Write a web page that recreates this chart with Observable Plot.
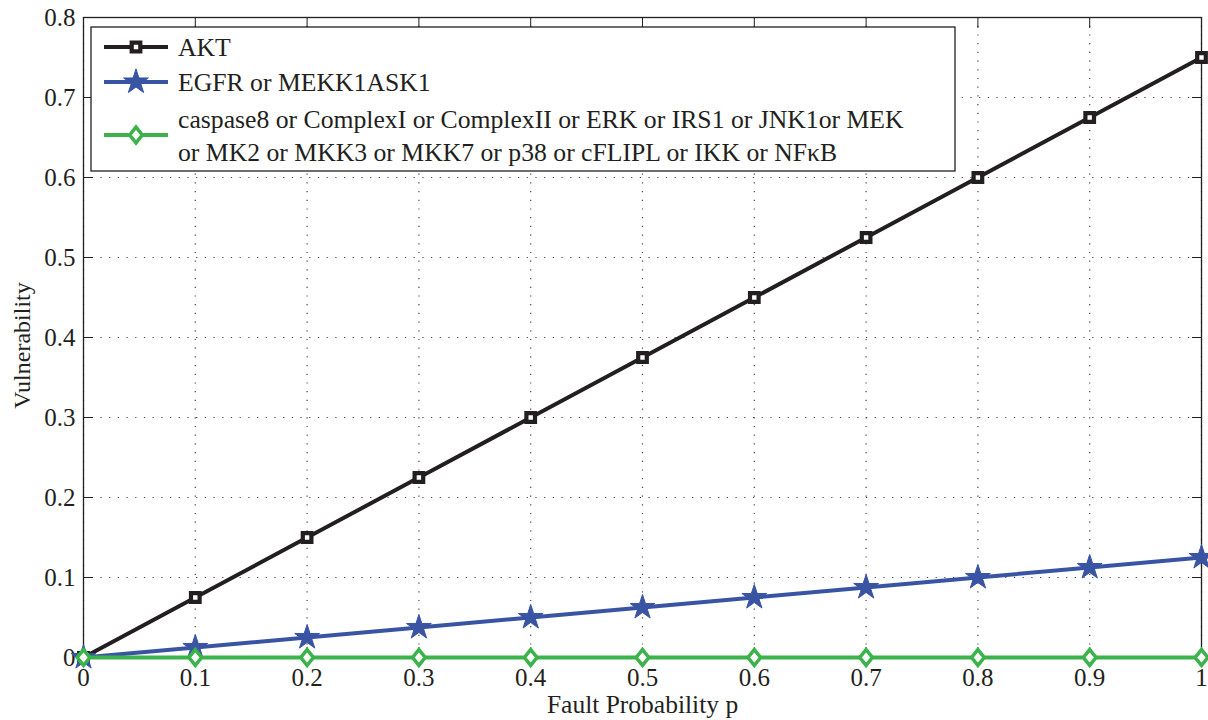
<!DOCTYPE html>
<html>
<head>
<meta charset="utf-8">
<script src="https://cdn.jsdelivr.net/npm/d3@7"></script>
<script src="https://cdn.jsdelivr.net/npm/@observablehq/plot@0.6"></script>
<style>
  html, body { margin: 0; padding: 0; background: #fff; }
  #chart { position: relative; width: 1208px; height: 720px; }
  #chart svg text { font-family: "Liberation Serif", "Times New Roman", serif !important; }
</style>
</head>
<body>
<div id="chart"></div>
<script>
const faultP = [0, 0.1, 0.2, 0.3, 0.4, 0.5, 0.6, 0.7, 0.8, 0.9, 1];
const aktValues = [0, 0.075, 0.15, 0.225, 0.3, 0.375, 0.45, 0.525, 0.6, 0.675, 0.75];
const egfrValues = [0, 0.0125, 0.025, 0.0375, 0.05, 0.0625, 0.075, 0.0875, 0.1, 0.1125, 0.125];
const otherValues = [0, 0, 0, 0, 0, 0, 0, 0, 0, 0, 0];
const xTicks = [0, 0.1, 0.2, 0.3, 0.4, 0.5, 0.6, 0.7, 0.8, 0.9, 1];
const yTicks = [0, 0.1, 0.2, 0.3, 0.4, 0.5, 0.6, 0.7, 0.8];
const seriesNames = [
  "AKT",
  "EGFR or MEKK1ASK1",
  "caspase8 or ComplexI or ComplexII or ERK or IRS1 or JNK1or MEK\nor MK2 or MKK3 or MKK7 or p38 or cFLIPL or IKK or NFκB"
];
const colors = ["#231f20", "#3a54a4", "#3cb34a"];

const rows = (vals) => faultP.map((p, i) => ({p, v: vals[i]}));
const akt = rows(aktValues), egfr = rows(egfrValues), other = rows(otherValues);

const matDiamond = {
  draw(ctx, size) {
    const r = Math.sqrt(size / Math.PI);
    ctx.moveTo(0, -r * 1.25);
    ctx.lineTo(r, 0);
    ctx.lineTo(0, r * 1.25);
    ctx.lineTo(-r, 0);
    ctx.closePath();
  }
};

const font = "Liberation Serif";

const plot = Plot.plot({
  width: 1208,
  height: 720,
  marginLeft: 83,
  marginRight: 7,
  marginTop: 17,
  marginBottom: 63,
  style: {fontFamily: font, fontSize: "25px", color: "#231f20", background: "#fff", overflow: "visible"},
  x: {domain: [0, 1], ticks: xTicks},
  y: {domain: [0, 0.8], ticks: yTicks},
  marks: [
    Plot.gridX(xTicks, {stroke: "#444", strokeOpacity: 1, strokeWidth: 1.2, strokeDasharray: "1.2,7.5"}),
    Plot.gridY(yTicks, {stroke: "#444", strokeOpacity: 1, strokeWidth: 1.2, strokeDasharray: "1.2,7.5"}),
    Plot.frame({stroke: "#231f20", strokeWidth: 1.3}),
    Plot.axisX(xTicks, {anchor: "bottom", tickSize: -10, tickPadding: 21, tickFormat: d => d3.format("~g")(d), fontSize: 25, label: null, stroke: "#231f20"}),
    Plot.axisX(xTicks, {anchor: "top", tickSize: -10, tickFormat: () => "", label: null}),
    Plot.axisY(yTicks, {anchor: "left", tickSize: -10, tickPadding: 18, tickFormat: d => d3.format("~g")(d), fontSize: 25, label: null}),
    Plot.axisY(yTicks, {anchor: "right", tickSize: -10, tickFormat: () => "", label: null}),
    Plot.text(["Fault Probability p"], {frameAnchor: "bottom", textAnchor: "middle", dy: 55, fontSize: 25.5, fill: "#231f20"}),
    Plot.text(["Vulnerability"], {frameAnchor: "left", textAnchor: "middle", dx: -61, dy: 8, rotate: -90, fontSize: 24, fill: "#231f20"}),
    Plot.line(akt, {x: "p", y: "v", stroke: colors[0], strokeWidth: 4}),
    Plot.dot(akt, {x: "p", y: "v", symbol: "square", r: 4.85, fill: "#fff", stroke: colors[0], strokeWidth: 4.2}),
    Plot.line(egfr, {x: "p", y: "v", stroke: colors[1], strokeWidth: 4}),
    Plot.dot(egfr, {x: "p", y: "v", symbol: "star", r: 7.8, fill: colors[1], stroke: colors[1], strokeWidth: 1}),
    Plot.line(other, {x: "p", y: "v", stroke: colors[2], strokeWidth: 4}),
    Plot.dot(other, {x: "p", y: "v", symbol: matDiamond, r: 6.3, fill: "#fff", stroke: colors[2], strokeWidth: 3.5})
  ]
});
document.getElementById("chart").appendChild(plot);

const svg = d3.select(plot);
svg.selectAll("text").filter(function() { return /^[0-9.]+$/.test(this.textContent.trim()); })
  .style("font-size", "25px");

// Legend box inside the plot (MATLAB-style)
const lg = svg.append("g").attr("font-size", 25.7).attr("fill", "#231f20").attr("text-anchor", "start");
lg.append("rect").attr("x", 91).attr("y", 27).attr("width", 864).attr("height", 144)
  .attr("fill", "#fff").attr("stroke", "#231f20").attr("stroke-width", 1.3);
const entries = [
  {y: 47, lines: [seriesNames[0]], textY: [47]},
  {y: 82, lines: [seriesNames[1]], textY: [82]},
  {y: 135, lines: seriesNames[2].split("\n"), textY: [119, 152]}
];
const sym = [d3.symbol(d3.symbolSquare, 4.85 * 4.85 * Math.PI), d3.symbol(d3.symbolStar, 7.8 * 7.8 * Math.PI), d3.symbol(matDiamond, 6.3 * 6.3 * Math.PI)];
entries.forEach((e, i) => {
  lg.append("line").attr("x1", 104).attr("x2", 168).attr("y1", e.y).attr("y2", e.y)
    .attr("stroke", colors[i]).attr("stroke-width", 4);
  const m = lg.append("path").attr("d", sym[i]()).attr("transform", `translate(136,${e.y})`);
  if (i === 1) m.attr("fill", colors[1]).attr("stroke", colors[1]).attr("stroke-width", 1);
  else m.attr("fill", "#fff").attr("stroke", colors[i]).attr("stroke-width", i === 0 ? 4.2 : 3.5);
  e.lines.forEach((t, j) => {
    lg.append("text").attr("x", 178).attr("y", e.textY[j]).attr("dy", "0.35em").attr("text-anchor", "start").text(t);
  });
});
</script>
</body>
</html>
